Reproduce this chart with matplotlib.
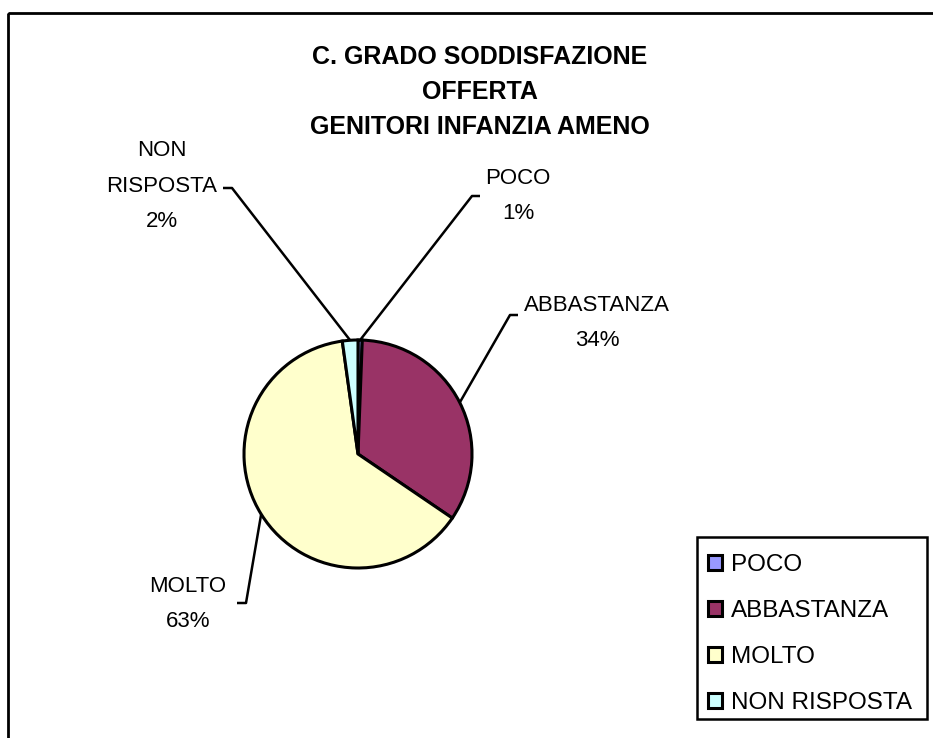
import matplotlib.pyplot as plt
from matplotlib.patches import Rectangle
import numpy as np

# === Data ===
categories = ["POCO", "ABBASTANZA", "MOLTO", "NON RISPOSTA"]
share = [0.6, 33.9, 63.3, 2.2]
colors = ["#9999FF", "#993366", "#FFFFCC", "#CCFFFF"]
title = "C. GRADO SODDISFAZIONE\nOFFERTA\nGENITORI INFANZIA AMENO"
slice_names = ["POCO", "ABBASTANZA", "MOLTO", "NON\nRISPOSTA"]

plt.rcParams["font.family"] = ["Liberation Sans", "DejaVu Sans"]

W, H = 933, 738
fig = plt.figure(figsize=(W / 100, H / 100), dpi=100)
ax = fig.add_axes([0, 0, 1, 1])

# pixel-like coordinates, y measured from the top
def fy(y):
    return H - y

cx, cy, r = 358, 454, 114
wedges, _ = ax.pie(share, colors=colors, startangle=90, counterclock=False,
                   center=(cx, fy(cy)), radius=r,
                   wedgeprops=dict(edgecolor="black", linewidth=2.2))
ax.set_xlim(0, W)
ax.set_ylim(0, H)
ax.set_aspect("auto")
ax.axis("off")

# outer frame (right/bottom edges fall outside the image)
ax.add_patch(Rectangle((8, fy(13)), W + 20, -(H + 20), fill=False,
                       edgecolor="black", linewidth=2, clip_on=False))

ax.text(480, fy(92), title, ha="center", va="center", fontsize=18,
        fontweight="bold", linespacing=1.6)

# label text position, leader-line elbow (x0, x1, y)
label_pos = [(518, 196), (597, 323), (188, 604), (162, 186)]
elbows = [(480, 472, 196), (518, 510, 315), (237, 246, 603), (223, 232, 188)]

for w, name, v, (tx, ty), (ex0, ex1, ey) in zip(wedges, slice_names, share, label_pos, elbows):
    mid = np.deg2rad((w.theta1 + w.theta2) / 2)
    px, py = cx + r * np.cos(mid), fy(cy) + r * np.sin(mid)
    ax.plot([ex0, ex1, px], [fy(ey), fy(ey), py], color="black", lw=1.8,
            solid_capstyle="butt", zorder=0)
    txt = f"{name}\n{round(v):.0f}%"
    ax.text(tx, fy(ty), txt, ha="center", va="center", fontsize=16,
            linespacing=1.9, multialignment="center")

# legend (frame drawn separately so the rows sit like in the original)
leg = ax.legend(wedges, categories, loc="upper left",
                bbox_to_anchor=(697 / W, 1 - 543 / H), bbox_transform=fig.transFigure,
                fontsize=17.5, frameon=False,
                handlelength=0.58, handleheight=0.58, handletextpad=0.37,
                labelspacing=0.99, borderpad=0.45, borderaxespad=0)
ax.add_patch(Rectangle((697, fy(719)), 230, 182, fill=False,
                       edgecolor="black", linewidth=1.8))

fig.savefig("out.png", dpi=100)
